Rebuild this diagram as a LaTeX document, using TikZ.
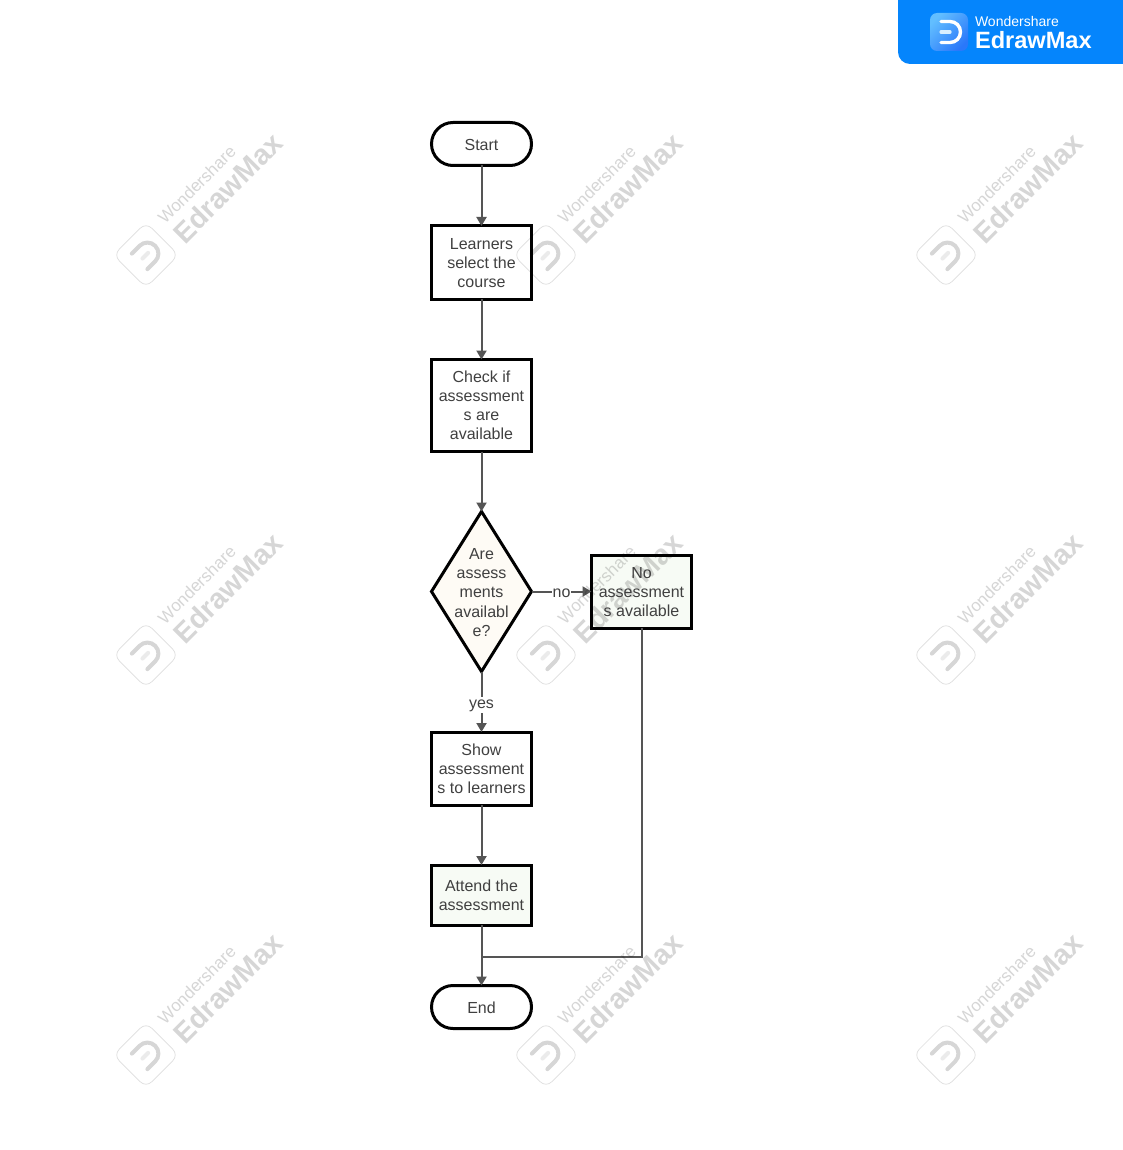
\documentclass[tikz,border=0pt]{standalone}
\usepackage{fontspec}
\setmainfont{Liberation Sans}
\usetikzlibrary{shapes.geometric,shapes.misc,arrows.meta}
\definecolor{inkc}{HTML}{404040}
\definecolor{linec}{HTML}{555555}
\definecolor{wmc}{HTML}{D6D6D6}
\definecolor{logoc}{HTML}{0585FC}
\definecolor{paper}{HTML}{FEFBF5}
\definecolor{mint}{HTML}{F7FBF5}
\definecolor{icona}{HTML}{62BEFF}
\definecolor{iconb}{HTML}{2A78FA}
\tikzset{
 every node/.style={font=\fontsize{16}{19}\selectfont,text=inkc,align=center,inner sep=0pt,outer sep=0pt},
 flowbox/.style={draw=black,line width=3pt,rectangle,minimum width=100pt,fill=white},
 term/.style={draw=black,line width=3pt,rounded rectangle,minimum width=100pt,minimum height=43pt,fill=white},
 decis/.style={draw=black,line width=3pt,diamond,minimum width=100pt,minimum height=160pt,fill=paper,line join=miter},
 conn/.style={draw=linec,line width=2pt,-{Triangle[length=9pt,width=10pt]}},
 plainconn/.style={draw=linec,line width=2pt},
 edgelab/.style={fill=white,text=inkc,inner xsep=1pt,inner ysep=2pt,anchor=base},
 wmsmall/.style={font=\fontsize{17}{18}\selectfont,text=wmc},
 wmbig/.style={font=\fontsize{28.5}{30}\selectfont\bfseries,text=wmc},
}
\newcommand{\wmark}[2]{%
 \begin{scope}[shift={(#1,#2)}]
  \draw[wmc!80,line width=.7pt,rounded corners=8pt,rotate=45] (-23,-23) rectangle (23,23);
  \draw[wmc,line width=4pt,line cap=round,rotate=45] (-9,-11) -- (2,-11) arc[start angle=-90,end angle=90,radius=11] -- (-9,11);
  \draw[wmc!50,line width=4pt,line cap=round,rotate=45] (-5,0) -- (3,0);
  \node[wmsmall,rotate=45,anchor=base west] (ws#1#2) at (19,-30) {Wondershare};
  \node[wmbig,rotate=45,anchor=base west] (ed#1#2) at (39,-10) {EdrawMax};
 \end{scope}}
\begin{document}
\begin{tikzpicture}[x=1pt,y=-1pt]
\useasboundingbox (0,0) rectangle (1123,1150);
\fill[white] (0,0) rectangle (1123,1150);
% logo
\fill[logoc] (898,0) -- (1123,0) -- (1123,64) -- (910,64) arc[start angle=90,end angle=180,radius=12] -- cycle;
\shade[top color=icona,bottom color=iconb,shading angle=45,rounded corners=7pt] (930,13) rectangle (968,51);
\draw[white,line width=3.4pt,line cap=round] (941,21.5) -- (950,21.5) arc[start angle=-90,end angle=90,radius=10.5] -- (941,42.5);
\draw[white!75!icona,line width=3.2pt,line cap=round] (941,32) -- (950,32);
\node[text=white,anchor=base west,font=\fontsize{14}{16}\selectfont] (brandtop) at (975,27) {Wondershare};
\node[text=white,anchor=base west,font=\fontsize{23.6}{26}\selectfont\bfseries] (brandname) at (975,49) {EdrawMax};
% nodes
\node[term,label={[yshift=-.5pt]center:Start}] (start) at (481.5,144) {};
\node[flowbox,minimum height=73pt,label={[yshift=-1pt]center:Learners\\select the\\course}] (learn) at (481.5,262.5) {};
\node[flowbox,minimum height=92pt] (check) at (481.5,405.5) {Check if\\assessment\\s are\\[.4pt]available};
\node[decis] (dec) at (481.5,591.5) {};
\node[flowbox,minimum height=73pt,fill=mint] (nobox) at (641.5,591.5) {};
\node[flowbox,minimum height=73pt] (show) at (481.5,768.5) {Show\\assessment\\s to learners};
\node[flowbox,minimum height=60pt,fill=mint] (attend) at (481.5,895) {Attend the\\assessment};
\node[term,label={[yshift=-.5pt]center:End}] (endn) at (481.5,1007) {};
\coordinate (mergept) at (481.5,957);
\coordinate (turn) at (641.5,957);
% connectors
\draw[conn] (start) -- (learn);
\draw[conn] (learn) -- (check);
\draw[conn] (check) -- (dec);
\draw[conn] (dec) -- (nobox);
\draw[conn] (dec) -- (show);
\draw[conn] (show) -- (attend);
\draw[conn] (attend) -- (endn);
\draw[plainconn] (nobox) -- (turn) -- (mergept);
\node[edgelab] (nolab) at (561.5,597.5) {no};
\node[edgelab] (yeslab) at (481.5,708) {yes};
% watermarks
\begin{scope}[blend mode=multiply]
\wmark{146}{255}\wmark{546}{255}\wmark{946}{255}
\wmark{146}{655}\wmark{546}{655}\wmark{946}{655}
\wmark{146}{1055}\wmark{546}{1055}\wmark{946}{1055}
\end{scope}
% text above the watermark
\node[font=\fontsize{16}{19.3}\selectfont] (dectext) at (481.5,592.5) {Are\\assess\\ments\\availabl\\e?};
\node (notext) at (641.5,592.5) {No\\assessment\\s available};
\end{tikzpicture}
\end{document}
